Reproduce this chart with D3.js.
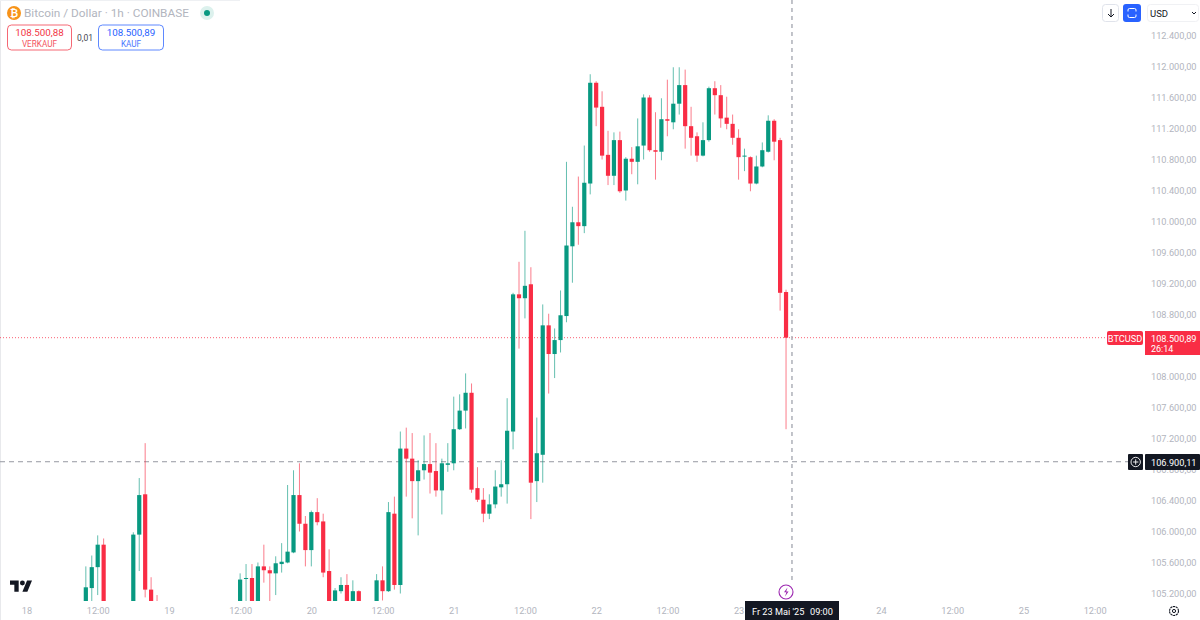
<![CDATA[<!DOCTYPE html>
<html><head><meta charset="utf-8">
<script src="https://cdn.jsdelivr.net/npm/d3@7"></script>
<style>
html,body{margin:0;padding:0;background:#fff;overflow:hidden}
text{font-family:Roboto,"Liberation Sans",sans-serif}
.axis path,.axis line{display:none}
.axis text{fill:#b2b5be;font-size:9.2px;font-family:Roboto,sans-serif}
</style></head><body>
<svg id="c" width="1200" height="620"></svg>
<script>
// hour offset from 18 May 2025 12:00
const hours=[-2,-1,0,1,6,7,8,9,10,24,25,26,27,28,29,30,31,32,33,34,35,36,37,38,39,40,41,42,43,44,47,48,49,50,51,52,53,54,55,56,57,58,59,60,61,62,63,64,65,66,67,68,69,70,71,72,73,74,75,76,77,78,79,80,81,82,83,84,85,86,87,88,89,90,91,92,93,94,95,96,97,98,99,100,101,102,103,104,105,106,107,108,109,110,111,112,113,114,115,116];
const opens=[104900,105270,105540,105830,104900,105960,106480,105250,104950,104900,105390,105400,104900,105550,105500,105460,105580,105600,105730,106470,106100,105760,106250,106130,105490,104900,105230,105310,104900,105230,104900,105370,105230,106230,105310,107070,106940,106650,106790,106870,106780,106530,106860,106880,107320,107560,107790,106560,106410,106230,106350,106570,106610,107290,109060,109010,109190,106650,106990,108660,108290,108470,108780,109680,109990,109940,110490,111790,111480,110860,110590,111050,110400,110810,110770,110980,111600,110920,110900,111320,111280,111520,111760,111230,111100,110850,111050,111720,111630,111340,111260,111080,110840,110830,110490,110710,110900,111300,111050,109090];
const highs=[105550,105690,105950,105910,105990,106690,107140,105410,105180,105460,105580,105580,105600,105830,105550,105680,105850,106600,106790,106880,106200,106270,106430,106230,105770,105270,105410,105450,105370,105240,105450,105550,106380,106450,107290,107340,107270,106920,107240,107270,107140,106940,107140,107740,107770,108040,107910,106830,106560,106480,106790,106920,107720,109080,109480,109880,109410,107470,108930,108810,108620,109110,110770,110190,110580,110980,111900,111810,111680,111170,111150,111160,110830,110960,111330,111640,111630,111410,111590,111830,111990,111990,111960,111480,111150,111280,111740,111810,111760,111610,111380,111190,110940,110840,110850,111020,111370,111320,111080,109120];
const lows=[104800,104800,105180,104800,104800,105490,105150,104800,104800,104800,104800,104800,104800,105340,105100,105180,105470,105590,105720,106000,105550,105550,106080,105410,104800,104800,105200,104800,104800,104800,104800,105110,105220,105250,105200,106450,106170,105950,106670,106490,106450,106220,106770,106790,107310,107330,106500,106380,106120,106160,106300,106450,106360,107060,108360,108750,106160,106380,106630,107780,107980,108310,108700,109210,109700,109850,110350,111230,110800,110470,110470,110370,110270,110610,110480,110800,110900,110540,110790,111100,111190,111380,110940,110850,110770,110840,111030,111380,111210,111190,110990,110540,110650,110390,110480,110700,110890,110790,108850,107320];
const closes=[105280,105540,105830,104900,105960,106470,105250,104900,104900,105380,105400,104900,105550,105500,105460,105590,105610,105740,106470,106100,105760,106250,106120,105470,104900,105240,105310,104900,105230,104900,105370,105230,106250,105310,107070,106940,106650,106790,106870,106760,106530,106880,106880,107320,107560,107790,106540,106410,106230,106350,106580,106610,107300,109060,109010,109170,106630,107010,108660,108290,108470,108790,109690,109990,109940,110500,111790,111470,110850,110590,111050,110390,110810,110770,110970,111600,110920,110900,111320,111300,111520,111760,111230,111080,110850,111050,111720,111630,111330,111260,111080,110830,110850,110490,110710,110920,111300,111030,109080,108500.89];

const priceTicks=[112400,112000,111600,111200,110800,110400,110000,109600,109200,108800,108000,107600,107200,106800,106400,106000,105600,105200];
const timeTickHours=[-12,0,12,24,36,48,60,72,84,96,108,132,144,156,168];
const timeTickLabels=["18","12:00","19","12:00","20","12:00","21","12:00","22","12:00","23","24","12:00","25","12:00"];
const lastPrice=108500.89, crossPrice=106900.11, crossHour=117;
const sellLabel="108.500,88", buyLabel="108.500,89", spreadLabel="0,01";
const titleLabel="Bitcoin / Dollar · 1h · COINBASE", tickerLabel="BTCUSD", countdown="26:14", crossDate="Fr 23 Mai '25", crossClock="09:00";

const GREEN="#089981", RED="#f92d45", AXIS="#b2b5be", DARK="#131722";
const svg=d3.select("#c");
const y=d3.scaleLinear().domain([105200,112000]).range([593.5,66.5]);
const x=d3.scaleLinear().domain([0,168]).range([97.7,1094.6]);
const fmt=v=>d3.format(",.2f")(v).replace(/,/g,"#").replace(".",",").replace(/#/g,".");

const defs=svg.append("defs");
defs.append("clipPath").attr("id","pane").append("rect").attr("x",0).attr("y",0).attr("width",1145).attr("height",601);

// frame
svg.append("line").attr("x1",0.5).attr("x2",0.5).attr("y1",0).attr("y2",620).attr("stroke","#e8e9ec");
svg.append("line").attr("x1",0).attr("x2",240).attr("y1",0.5).attr("y2",0.5).attr("stroke","#eef0f3");

// axes
const yAxis=d3.axisRight(y).tickValues(priceTicks).tickFormat(fmt).tickSize(0).tickPadding(0);
svg.append("g").attr("class","axis").attr("transform","translate(1151,0)").call(yAxis);
const xAxis=d3.axisBottom(x).tickValues(timeTickHours).tickFormat((d,i)=>timeTickLabels[i]).tickSize(0).tickPadding(0);
svg.append("g").attr("class","axis").attr("transform","translate(0,607)").call(xAxis);

// lines
svg.append("line").attr("x1",0).attr("x2",1107).attr("y1",y(lastPrice)).attr("y2",y(lastPrice))
  .attr("stroke",RED).attr("stroke-width",1).attr("stroke-dasharray","1 2").attr("opacity",.75);
svg.append("line").attr("x1",0).attr("x2",1128).attr("y1",y(crossPrice)).attr("y2",y(crossPrice))
  .attr("stroke","#9598a1").attr("stroke-width",1).attr("stroke-dasharray","5 4");
svg.append("line").attr("x1",x(crossHour)).attr("x2",x(crossHour)).attr("y1",0).attr("y2",584)
  .attr("stroke","#a8abb3").attr("stroke-width",1.4).attr("stroke-dasharray","4 4");

// candles
const candles=hours.map((h,i)=>({h,o:opens[i],hi:highs[i],lo:lows[i],c:closes[i]}));
const col=d=>d.c>=d.o?GREEN:RED;
const g=svg.append("g").attr("clip-path","url(#pane)");
const sel=g.selectAll("g").data(candles).join("g");
sel.append("line").attr("x1",d=>x(d.h)).attr("x2",d=>x(d.h)).attr("y1",d=>y(d.hi)).attr("y2",d=>y(d.lo))
  .attr("stroke",col).attr("stroke-width",1).attr("opacity",.62);
sel.append("rect").attr("x",d=>x(d.h)-2.1).attr("width",4.2)
  .attr("y",d=>y(Math.max(d.o,d.c))).attr("height",d=>Math.max(1,Math.abs(y(d.o)-y(d.c))))
  .attr("fill",col);

// header
svg.append("circle").attr("cx",14).attr("cy",13).attr("r",7).attr("fill","#f7931a");
svg.append("text").attr("x",14).attr("y",16.5).attr("text-anchor","middle").attr("font-size",10).attr("font-weight",700).attr("fill","#fff").text("₿");
svg.append("text").attr("x",24).attr("y",17).attr("font-size",11.8).attr("fill","#b2b5be").text(titleLabel);
svg.append("circle").attr("cx",207).attr("cy",13).attr("r",7).attr("fill","#dcf1ed");
svg.append("circle").attr("cx",207).attr("cy",13).attr("r",3).attr("fill",GREEN);

function box(bx,w,stroke,price,lab){
  svg.append("rect").attr("x",bx+.5).attr("y",25).attr("width",w).attr("height",25).attr("rx",4).attr("fill","#fff").attr("stroke",stroke).attr("stroke-opacity",.75);
  svg.append("text").attr("x",bx+w/2+.5).attr("y",36).attr("text-anchor","middle").attr("font-size",9.8).attr("fill",stroke).text(price);
  svg.append("text").attr("x",bx+w/2+.5).attr("y",46.5).attr("text-anchor","middle").attr("font-size",8.2).attr("fill",stroke).attr("opacity",.85).text(lab);
}
box(7,64,"#f23645",sellLabel,"VERKAUF");
box(98,65,"#2962ff",buyLabel,"KAUF");
svg.append("text").attr("x",85).attr("y",41).attr("text-anchor","middle").attr("font-size",8.5).attr("fill","#434651").text(spreadLabel);

// top right controls
svg.append("rect").attr("x",1102.5).attr("y",4.5).attr("width",16).attr("height",17).attr("rx",3).attr("fill","#fff").attr("stroke","#e0e3eb");
svg.append("path").attr("d","M1111 9v8M1108 14l3 3 3-3").attr("fill","none").attr("stroke","#131722").attr("stroke-width",1);
svg.append("rect").attr("x",1123).attr("y",4).attr("width",18).attr("height",18).attr("rx",3).attr("fill","#2962ff");
svg.append("path").attr("d","M1128 11.5v-1.5q0-1.5 1.5-1.5h5q1.5 0 1.5 1.5v1.5M1128 14.5v1.5q0 1.5 1.5 1.5h5q1.5 0 1.5-1.5v-1.5").attr("fill","none").attr("stroke","#fff").attr("stroke-width",1);
svg.append("rect").attr("x",1147.5).attr("y",4.5).attr("width",51).attr("height",17).attr("rx",3).attr("fill","#fff").attr("stroke","#f0f1f4");
svg.append("text").attr("x",1150).attr("y",16.5).attr("font-size",9.5).attr("fill","#131722").text("USD");
svg.append("path").attr("d","M1192 12l2 2 2-2").attr("fill","none").attr("stroke","#131722").attr("stroke-width",1);

// price labels
svg.append("rect").attr("x",1107).attr("y",331).attr("width",36).attr("height",14).attr("rx",2).attr("fill",RED);
svg.append("text").attr("x",1125).attr("y",341.5).attr("text-anchor","middle").attr("font-size",9.2).attr("fill","#fff").text(tickerLabel);
svg.append("rect").attr("x",1145).attr("y",331).attr("width",55).attr("height",24).attr("fill",RED);
svg.append("text").attr("x",1151).attr("y",341.5).attr("font-size",9.2).attr("fill","#fff").text(fmt(lastPrice));
svg.append("text").attr("x",1151).attr("y",352).attr("font-size",9).attr("fill","#fff").text(countdown);

svg.append("rect").attr("x",1128).attr("y",454).attr("width",15).attr("height",16).attr("rx",1).attr("fill",DARK);
svg.append("circle").attr("cx",1135.7).attr("cy",462).attr("r",4.7).attr("fill","none").attr("stroke","#fff").attr("stroke-width",.9);
svg.append("path").attr("d","M1133 462h5.4M1135.7 459.3v5.4").attr("stroke","#fff").attr("stroke-width",.9);
svg.append("rect").attr("x",1145).attr("y",454).attr("width",55).attr("height",16).attr("rx",1).attr("fill",DARK);
svg.append("text").attr("x",1151).attr("y",465.5).attr("font-size",9.2).attr("fill","#fff").text(fmt(crossPrice));

// time label
svg.append("rect").attr("x",745).attr("y",601).attr("width",94).attr("height",19).attr("fill",DARK);
svg.append("text").attr("x",752).attr("y",615).attr("font-size",9.2).attr("fill","#fff").text(crossDate);
svg.append("text").attr("x",810).attr("y",615).attr("font-size",9.2).attr("fill","#fff").text(crossClock);

// lightning badge
svg.append("circle").attr("cx",786).attr("cy",592).attr("r",7).attr("fill","#fff").attr("stroke","#9c27b0").attr("stroke-width",1.1);
svg.append("path").attr("d","M787.5 587.5l-3.5 4.7h2.4l-1.4 4.3 3.6-5h-2.4z").attr("fill","#9c27b0");

// logo
svg.append("g").attr("transform","translate(10,578) scale(.62)").call(l=>{
  l.append("path").attr("d","M14 22H7V11H0V4h14v18zM28 22h-8l7.5-18h8L28 22z").attr("fill","#131722");
  l.append("circle").attr("cx",20).attr("cy",8).attr("r",4).attr("fill","#131722");
});

// settings
svg.append("circle").attr("cx",1174).attr("cy",611).attr("r",4.5).attr("fill","none").attr("stroke","#131722").attr("stroke-width",1.1).attr("stroke-dasharray","2.2 .6");
svg.append("circle").attr("cx",1174).attr("cy",611).attr("r",1.6).attr("fill","none").attr("stroke","#131722").attr("stroke-width",1);
</script></body></html>]]>
